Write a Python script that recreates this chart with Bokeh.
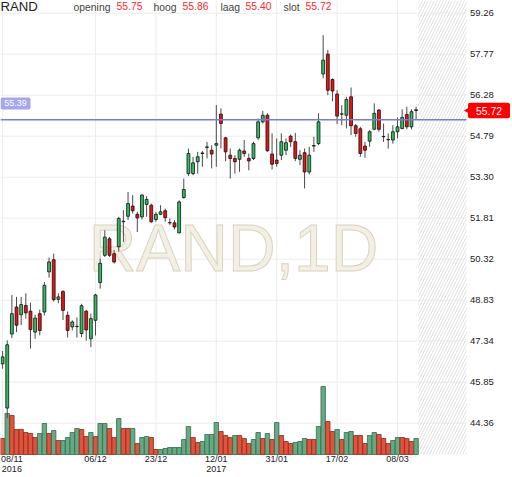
from bokeh.plotting import figure
from bokeh.models import Range1d, FixedTicker, ColumnDataSource, PrintfTickFormatter
from bokeh.core.properties import value
from bokeh.embed import file_html
from bokeh.resources import INLINE

symbol = "RAND"
interval = "1D"

opens = [46.52, 44.91, 47.60, 48.58, 48.30, 48.64, 48.43, 47.67, 48.34, 48.40,
         49.86, 50.30, 48.86, 49.15, 48.28, 47.86, 47.87, 47.62, 48.43, 47.43,
         48.10, 49.47, 50.46, 51.06, 50.52, 50.77, 51.68, 51.88, 52.25, 51.95,
         51.86, 52.31, 52.28, 51.76, 51.95, 52.08, 51.64, 51.64, 51.28, 52.56,
         53.43, 53.43, 53.86, 54.16, 54.38, 54.28, 54.46, 55.59, 54.73, 54.10,
         53.98, 53.95, 54.25, 53.98, 53.98, 54.73, 55.31, 55.55, 54.14, 53.92,
         54.10, 54.28, 54.79, 54.59, 53.95, 54.19, 53.49, 54.43, 54.52, 57.05,
         57.77, 56.85, 56.32, 55.59, 55.55, 56.22, 55.17, 55.06, 54.43, 54.61,
         55.04, 55.74, 54.78, 54.67, 54.65, 54.95, 55.07, 55.58, 55.13, 55.75]
highs = [46.98, 47.37, 49.02, 48.95, 48.95, 49.08, 48.74, 48.30, 48.49, 49.49,
         50.38, 50.52, 49.08, 49.19, 48.42, 48.10, 48.20, 48.70, 48.48, 48.34,
         49.06, 50.34, 51.37, 51.13, 50.65, 51.86, 52.10, 52.76, 52.65, 52.04,
         52.68, 52.61, 52.34, 52.04, 52.28, 52.16, 51.80, 51.74, 52.46, 53.25,
         54.34, 54.04, 54.22, 54.25, 54.58, 54.46, 55.92, 55.80, 54.77, 54.34,
         54.10, 54.34, 54.65, 54.16, 54.59, 55.43, 55.71, 55.62, 54.89, 54.71,
         54.89, 54.71, 54.85, 54.91, 54.28, 54.34, 54.40, 54.77, 55.62, 58.46,
         57.92, 56.89, 56.46, 55.92, 56.22, 56.56, 55.23, 55.13, 54.58, 55.01,
         55.98, 55.77, 55.25, 54.89, 55.19, 55.47, 55.77, 55.86, 55.77, 55.86]
lows = [46.34, 44.54, 47.45, 47.67, 47.92, 48.16, 47.07, 47.43, 47.55, 48.28,
        49.65, 48.78, 48.72, 48.11, 47.47, 47.73, 47.47, 47.49, 47.36, 47.12,
        47.55, 49.25, 50.40, 50.40, 50.16, 50.59, 50.95, 51.74, 51.98, 51.31,
        51.76, 51.86, 51.64, 51.68, 51.92, 51.68, 51.56, 51.40, 51.25, 52.52,
        53.34, 53.37, 53.43, 53.68, 53.98, 53.62, 53.68, 54.34, 53.88, 53.25,
        53.43, 53.49, 54.04, 53.55, 53.92, 54.65, 55.25, 54.22, 53.58, 53.68,
        53.92, 54.10, 54.40, 53.88, 53.74, 52.89, 53.40, 54.22, 54.46, 56.89,
        56.28, 56.06, 55.23, 55.19, 55.07, 54.83, 54.77, 54.04, 54.00, 54.40,
        55.01, 54.95, 54.58, 54.34, 54.52, 54.71, 55.04, 55.04, 55.04, 55.40]
closes = [46.77, 47.21, 48.34, 47.92, 48.67, 48.37, 47.76, 48.18, 47.73, 49.37,
          50.22, 48.85, 48.95, 48.46, 47.73, 48.04, 47.88, 48.63, 47.75, 48.16,
          49.02, 50.17, 51.12, 50.46, 50.22, 51.80, 51.70, 52.34, 52.08, 51.82,
          52.65, 52.49, 51.68, 51.95, 52.04, 51.83, 51.65, 51.49, 52.40, 52.85,
          54.16, 53.82, 54.04, 54.18, 54.40, 54.14, 54.52, 55.25, 54.22, 53.98,
          53.86, 54.28, 54.16, 53.89, 54.52, 55.31, 55.55, 54.26, 53.77, 53.80,
          54.59, 54.55, 54.59, 53.98, 54.10, 53.49, 54.10, 54.45, 55.31, 57.55,
          56.46, 56.43, 55.52, 55.60, 56.12, 55.17, 54.89, 54.16, 54.28, 54.95,
          55.62, 55.04, 54.77, 54.66, 54.95, 55.13, 55.47, 55.13, 55.68, 55.72]
volumes_k = [400, 1025, 975, 625, 625, 550, 525, 425, 525, 775,
             525, 600, 350, 350, 425, 550, 650, 625, 450, 550,
             450, 775, 775, 650, 425, 900, 650, 650, 650, 275,
             425, 450, 425, 125, 125, 150, 175, 175, 175, 375,
             700, 425, 300, 325, 500, 500, 800, 575, 475, 425,
             475, 475, 400, 275, 375, 550, 400, 525, 375, 800,
             475, 325, 275, 300, 325, 400, 375, 375, 700, 1700,
             825, 575, 625, 375, 550, 575, 475, 475, 275, 475,
             550, 500, 400, 275, 350, 425, 425, 400, 325, 400]
volume_up = [0, 1, 0, 0, 0, 0, 0, 0, 1, 1,
             0, 1, 0, 1, 1, 1, 1, 0, 0, 1,
             0, 1, 1, 0, 0, 1, 0, 0, 1, 0,
             1, 1, 0, 0, 1, 1, 1, 1, 1, 1,
             1, 0, 0, 1, 1, 1, 1, 0, 0, 0,
             1, 0, 0, 0, 1, 1, 0, 1, 0, 1,
             0, 0, 0, 1, 1, 1, 0, 0, 1, 1,
             0, 0, 1, 0, 1, 1, 0, 0, 0, 1,
             1, 0, 0, 0, 1, 1, 0, 0, 0, 1]

price_ticks = [44.36, 45.85, 47.34, 48.83, 50.32, 51.81, 53.30, 54.79, 56.28, 57.77, 59.26]
date_idx = [0, 20, 33, 46, 59, 72, 85]
date_labels = ["08/11\n2016", "06/12", "23/12", "12/01\n2017", "31/01", "17/02", "08/03"]
level_price = 55.39

W, H = 512, 477
FONT = "Liberation Sans"
# chart zone (candles) and full canvas extents in data units
X0, X1, XE = -0.45, 99.85, 109.75
Y0, Y1, YE = 43.224, 59.72, 42.387

n = len(closes)
idx = list(range(n))

p = figure(width=W, height=H, x_range=Range1d(X0, XE), y_range=Range1d(YE, Y1),
           output_backend="svg", toolbar_location=None, y_axis_location="right",
           min_border_left=0, min_border_right=0, min_border_top=0, min_border_bottom=0)
p.outline_line_color = None
p.background_fill_color = "white"
p.border_fill_color = "white"
p.extra_y_ranges = {"vol": Range1d(-575, 11350)}
p.xgrid.visible = False
p.ygrid.visible = False

# grid lines restricted to the chart zone
p.segment(x0=X0, x1=X1, y0=price_ticks, y1=price_ticks, line_color="#ececec", line_width=1)
p.segment(x0=date_idx, x1=date_idx, y0=Y0, y1=Y1, line_color="#ececec", line_width=1)

# watermark
p.text(x=[49.7], y=[50.71], text=[f"{symbol},{interval}"], text_font=value(FONT),
       text_font_size="66px", text_color="#f3efe4", text_outline_color="#dad3bf",
       text_align="center", text_baseline="alphabetic")

# future (empty) zone hatch
p.quad(left=[n - 0.5], right=[X1], bottom=[Y0], top=[Y1 + 1],
       fill_color=None, line_color=None, hatch_pattern="/", hatch_color="#e2e2e2",
       hatch_scale=6, hatch_weight=1)

# volume
vsrc = ColumnDataSource(dict(
    x=idx, v=volumes_k,
    fc=["#68a884" if u else "#e0533c" for u in volume_up],
    lc=["#2f6d4a" if u else "#8e2a1a" for u in volume_up]))
p.vbar(x="x", width=0.95, top="v", bottom=0, source=vsrc, y_range_name="vol",
       fill_color="fc", line_color="lc", line_width=0.8)

# candles
csrc = ColumnDataSource(dict(
    x=idx, h=highs, l=lows,
    top=[max(o, c) for o, c in zip(opens, closes)],
    bot=[min(o, c) for o, c in zip(opens, closes)],
    fc=["#2fbf5f" if c >= o else "#ee1111" for o, c in zip(opens, closes)]))
p.segment(x0="x", y0="h", x1="x", y1="l", source=csrc, line_color="#4a4a4a", line_width=1)
p.vbar(x="x", width=0.62, top="top", bottom="bot", source=csrc,
       fill_color="fc", line_color="#111111", line_width=0.8)

# level line
p.segment(x0=[X0], x1=[X1], y0=[level_price], y1=[level_price], line_color="#7b7bd0", line_width=1.5)

# axes (drawn along the edges of the chart zone)
label_ticks = [max(i, 2) for i in date_idx]
p.xaxis.fixed_location = Y0 + 0.33
p.xaxis.ticker = FixedTicker(ticks=label_ticks)
p.xaxis.major_label_overrides = {t: lab for t, lab in zip(label_ticks, date_labels)}
p.yaxis.fixed_location = X1 - 1.4
p.yaxis.ticker = FixedTicker(ticks=price_ticks)
p.yaxis.formatter = PrintfTickFormatter(format="%.2f")
for ax in (p.xaxis, p.yaxis):
    ax.axis_line_color = None
    ax.major_tick_line_color = None
    ax.minor_tick_line_color = None
    ax.major_label_text_font = FONT
    ax.major_label_text_color = "#222222"
    ax.major_label_text_line_height = 0.95
p.xaxis.major_label_text_font_size = "9px"
p.yaxis.major_label_text_font_size = "9.5px"
p.yaxis.major_label_standoff = 4
p.xaxis.major_label_standoff = 3

# header
hdr = [(symbol, "#222222", "13.2px", X0, -2),
       ("opening", "#444444", "10.4px", 15.26, 1), (f"{opens[-1]:.2f}", "#ff2a2a", "10.4px", 24.52, 1),
       ("hoog", "#444444", "10.4px", 32.48, 1), (f"{highs[-1]:.2f}", "#ff2a2a", "10.4px", 38.72, 1),
       ("laag", "#444444", "10.4px", 46.9, 1), (f"{lows[-1]:.2f}", "#ff2a2a", "10.4px", 52.28, 1),
       ("slot", "#444444", "10.4px", 60.46, 1), (f"{closes[-1]:.2f}", "#ff2a2a", "10.4px", 65.2, 1)]
for txt, col, fs, xx, yo in hdr:
    p.text(x=[xx], y=[Y1], y_offset=yo, text=[txt], text_font=value(FONT), text_font_size=fs,
           text_color=col, text_baseline="top", text_align="left")

# level tag (left)
p.rect(x=[2.78], y=[55.98], width=30, height=12, width_units="screen", height_units="screen",
       fill_color="#a6a6ee", line_color=None, border_radius=2)
p.text(x=[2.78], y=[55.98], text=[f"{level_price:.2f}"], text_font=value(FONT), text_font_size="9px",
       text_color="white", text_align="center", text_baseline="middle")

# last price tag (right)
p.scatter(x=[X1 + 0.55], y=[closes[-1]], marker="triangle", angle=1.5708, size=9,
          fill_color="#ff0000", line_color=None)
p.rect(x=[104.69], y=[closes[-1]], width=42, height=15.5, width_units="screen", height_units="screen",
       fill_color="#ff0000", line_color=None, border_radius=2)
p.text(x=[104.69], y=[closes[-1]], text=[f"{closes[-1]:.2f}"], text_font=value(FONT),
       text_font_size="10.3px", text_color="white", text_align="center", text_baseline="middle")

open("out.html", "w").write(file_html(p, INLINE))
